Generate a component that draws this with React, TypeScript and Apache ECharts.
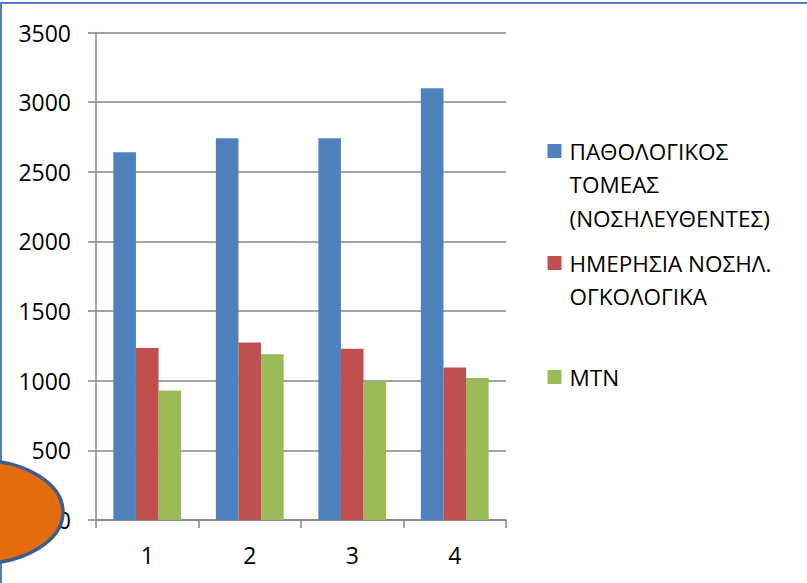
import React, { useEffect, useRef } from "react";
import * as echarts from "echarts";

const categories = ["1", "2", "3", "4"];
const seriesNames = [
  "ΠΑΘΟΛΟΓΙΚΟΣ ΤΟΜΕΑΣ (ΝΟΣΗΛΕΥΘΕΝΤΕΣ)",
  "ΗΜΕΡΗΣΙΑ ΝΟΣΗΛ. ΟΓΚΟΛΟΓΙΚΑ",
  "ΜΤΝ",
];
const legendLines = [
  ["ΠΑΘΟΛΟΓΙΚΟΣ", "ΤΟΜΕΑΣ", "(ΝΟΣΗΛΕΥΘΕΝΤΕΣ)"],
  ["ΗΜΕΡΗΣΙΑ ΝΟΣΗΛ.", "ΟΓΚΟΛΟΓΙΚΑ"],
  ["ΜΤΝ"],
];
const pathologikos = [2640, 2740, 2740, 3100];
const imerisia = [1235, 1275, 1230, 1095];
const mtn = [930, 1190, 995, 1020];
const seriesValues = [pathologikos, imerisia, mtn];
const colors = ["#4F81BD", "#C0504D", "#9BBB59"];

const FONT = "'Open Sans', 'DejaVu Sans', sans-serif";
const LINE_H = 33.5;
const legendIconCenters = [151, 263, 377];

export default function App() {
  const ref = useRef<HTMLDivElement>(null);
  useEffect(() => {
    if (!ref.current) return;
    const chart = echarts.init(ref.current, null, { renderer: "svg" });
    const legends = seriesNames.map((name, i) => {
      const n = legendLines[i].length;
      const boxH = (2 * n - 1) * LINE_H;
      const localTop = 7 - boxH / 2;
      const top = legendIconCenters[i] - (7 - localTop);
      const lines = [...Array(n - 1).fill(" "), ...legendLines[i]];
      return {
        data: [name],
        orient: "vertical",
        left: 547.5,
        top,
        padding: 0,
        itemWidth: 14,
        itemHeight: 14,
        itemGap: 8,
        icon: "rect",
        selectedMode: false,
        formatter: () => lines.join("\n"),
        textStyle: {
          fontFamily: FONT,
          fontSize: 22.5,
          color: "#000",
          lineHeight: LINE_H,
          padding: [0, 0, 0, 3],
        },
      };
    });
    chart.setOption({
      animation: false,
      color: colors,
      legend: legends,
      grid: { left: 96, right: 301, top: 32.5, bottom: 63, containLabel: false },
      xAxis: {
        type: "category",
        data: categories,
        axisLine: { show: true, lineStyle: { color: "#868686", width: 1.5 } },
        axisTick: { show: true, length: 8, lineStyle: { color: "#868686", width: 1.5 } },
        axisLabel: { fontFamily: FONT, fontSize: 23, color: "#000", margin: 23 },
      },
      yAxis: {
        type: "value",
        min: 0,
        max: 3500,
        interval: 500,
        axisLine: { show: true, lineStyle: { color: "#868686", width: 1.5 } },
        axisTick: { show: true, length: 8, lineStyle: { color: "#868686", width: 1.5 } },
        splitLine: { show: true, lineStyle: { color: "#868686", width: 1.5 } },
        axisLabel: {
          fontFamily: FONT,
          fontSize: 23,
          color: "#000",
          margin: 25,
          formatter: (v: number) => String(v),
        },
      },
      series: seriesNames.map((name, i) => ({
        type: "bar",
        name,
        data: seriesValues[i],
        barWidth: 22.6,
        barGap: "0%",
        itemStyle: { color: colors[i] },
      })),
      graphic: [
        {
          type: "rect",
          shape: { x: 1, y: 3, width: 1000, height: 800 },
          style: { fill: "none", stroke: "#4F81BD", lineWidth: 2 },
          z: 100,
          silent: true,
        },
        {
          type: "ellipse",
          shape: { cx: -23, cy: 512, rx: 86, ry: 52 },
          style: { fill: "#E46C0A", stroke: "#3A5F8D", lineWidth: 3.5 },
          z: 101,
          silent: true,
        },
      ],
    });
    return () => chart.dispose();
  }, []);
  return (
    <div
      ref={ref}
      style={{ position: "absolute", left: 0, top: 0, width: 807, height: 583, background: "#fff" }}
    />
  );
}
